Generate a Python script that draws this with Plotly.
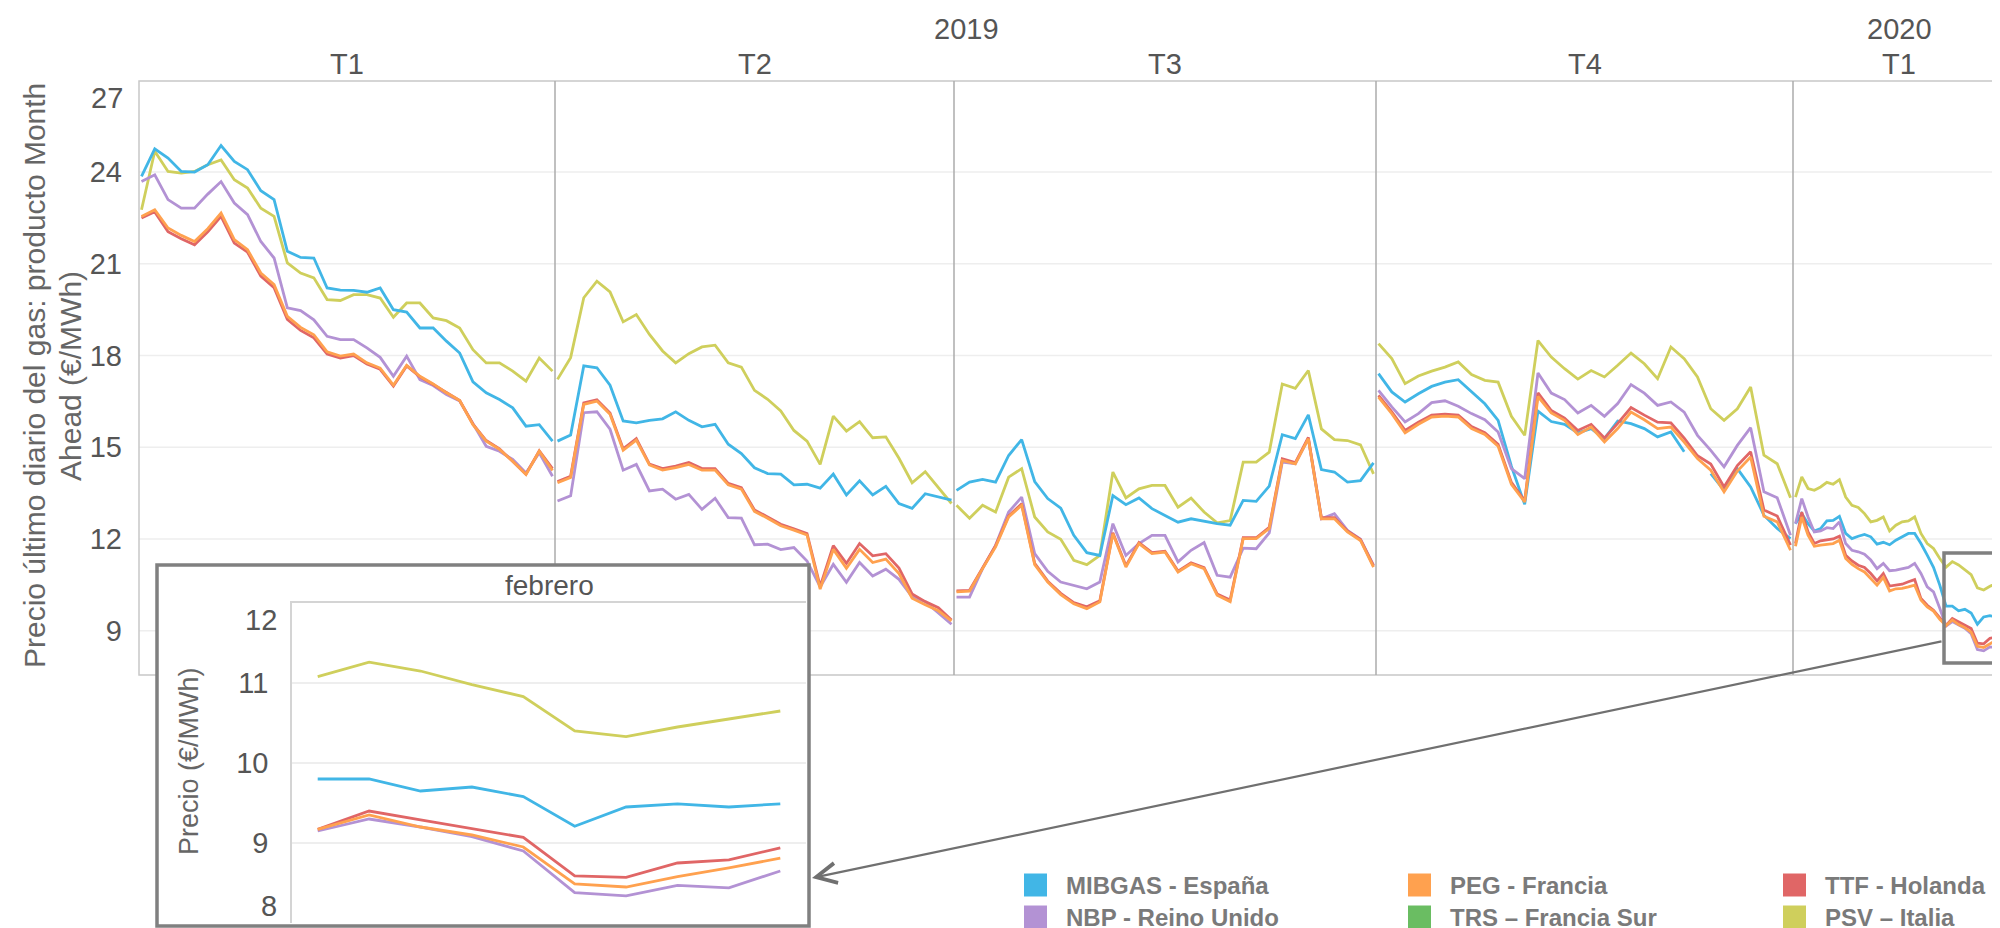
import plotly.graph_objects as go

W, H = 2000, 928
FONT = "Liberation Sans, Arial, Helvetica, sans-serif"

# ---------------- categories / labels ----------------
quarters = ["T1", "T2", "T3", "T4", "T1"]
years = ["2019", "2020"]
year_panes = [[0, 1, 2, 3], [4]]
feb_dates = ["03/02", "04/02", "05/02", "06/02", "07/02",
             "10/02", "11/02", "12/02", "13/02", "14/02"]

names = ["MIBGAS - España", "NBP - Reino Unido", "PEG - Francia",
         "TRS – Francia Sur", "TTF - Holanda", "PSV – Italia"]
colors = ["#41b6e6", "#b392d4", "#ffa14f", "#6abd62", "#e06666", "#cfcf5c"]

y_ticks = [9, 12, 15, 18, 21, 24]
inset_ticks = [9, 10, 11]

# ---------------- data (2019 quarters sampled ~every 2 trading days) ----------------
mibgas_2019 = [
    [23.86, 24.76, 24.46, 24.02, 24.00, 24.24, 24.87, 24.35, 24.08, 23.39, 23.10, 21.41, 21.21, 21.19, 20.21, 20.14,
     20.13, 20.07, 20.21, 19.50, 19.42, 18.90, 18.90, 18.47, 18.08, 17.14, 16.78, 16.56, 16.29, 15.69, 15.74, 15.20],
    [15.20, 15.40, 17.66, 17.60, 17.03, 15.86, 15.80, 15.88, 15.93, 16.16, 15.88, 15.67, 15.75, 15.10, 14.79, 14.33,
     14.14, 14.12, 13.77, 13.79, 13.66, 14.12, 13.44, 13.90, 13.44, 13.72, 13.16, 13.00, 13.48, 13.37, 13.27],
    [13.59, 13.86, 13.95, 13.86, 14.73, 15.25, 13.88, 13.32, 13.01, 12.12, 11.55, 11.46, 13.42, 13.12, 13.34, 12.99,
     12.77, 12.55, 12.66, 12.58, 12.50, 12.45, 13.26, 13.23, 13.73, 15.41, 15.28, 16.06, 14.27, 14.19, 13.86, 13.91, 14.49],
    [17.41, 16.81, 16.48, 16.75, 16.99, 17.13, 17.21, 16.81, 16.42, 15.88, 14.38, 13.13, 16.18, 15.84, 15.75, 15.47,
     15.61, 15.28, 15.86, 15.77, 15.61, 15.34, 15.50, 14.85, None, 14.14, 13.59, 14.30, 13.70, 12.78, 12.34, 12.01],
]
psv_2019 = [
    [22.77, 24.68, 24.02, 23.97, 24.02, 24.24, 24.40, 23.75, 23.48, 22.82, 22.55, 21.03, 20.70, 20.54, 19.83, 19.80,
     19.99, 19.99, 19.88, 19.25, 19.72, 19.72, 19.23, 19.14, 18.90, 18.19, 17.76, 17.76, 17.49, 17.16, 17.92, 17.49],
    [17.22, 17.93, 19.89, 20.43, 20.08, 19.10, 19.34, 18.69, 18.15, 17.76, 18.06, 18.28, 18.34, 17.76, 17.62, 16.86,
     16.57, 16.19, 15.55, 15.20, 14.44, 16.02, 15.53, 15.84, 15.31, 15.34, 14.64, 13.84, 14.20, 13.68, 13.16],
    [13.10, 12.68, 13.10, 12.88, 14.02, 14.30, 12.72, 12.23, 11.99, 11.30, 11.16, 11.46, 14.19, 13.34, 13.64, 13.75,
     13.75, 13.04, 13.34, 12.88, 12.53, 12.60, 14.51, 14.51, 14.84, 17.07, 16.93, 17.51, 15.60, 15.25, 15.22, 15.08, 14.13],
    [18.39, 17.90, 17.08, 17.33, 17.49, 17.62, 17.79, 17.38, 17.19, 17.13, 16.01, 15.39, 18.49, 17.95, 17.57, 17.23,
     17.51, 17.30, 17.68, 18.08, 17.73, 17.24, 18.28, 17.90, 17.30, 16.26, 15.88, 16.26, 16.97, 14.74, 14.46, 13.35],
]
nbp_2019 = [
    [23.69, 23.91, 23.10, 22.82, 22.82, 23.28, 23.69, 22.99, 22.61, 21.73, 21.19, 19.56, 19.47, 19.17, 18.63, 18.52,
     18.52, 18.25, 17.94, 17.32, 17.98, 17.21, 17.02, 16.72, 16.51, 15.76, 15.03, 14.87, 14.60, 14.16, 14.82, 14.05],
    [13.24, 13.41, 16.13, 16.16, 15.59, 14.25, 14.44, 13.57, 13.63, 13.30, 13.46, 12.97, 13.33, 12.70, 12.68, 11.81,
     11.83, 11.65, 11.72, 11.28, 10.43, 11.17, 10.58, 11.23, 10.79, 11.01, 10.68, 10.11, 9.95, 9.59, 9.21],
    [10.10, 10.10, 11.03, 11.79, 12.88, 13.37, 11.52, 10.94, 10.59, 10.48, 10.37, 10.59, 12.50, 11.46, 11.85, 12.12,
     12.12, 11.25, 11.63, 11.88, 10.81, 10.75, 11.70, 11.68, 12.20, 14.51, 14.46, 15.28, 12.66, 12.83, 12.28, 11.99, 11.14],
    [16.86, 16.32, 15.83, 16.10, 16.46, 16.52, 16.34, 16.10, 15.90, 15.50, 14.30, 13.97, 17.43, 16.77, 16.56, 16.12,
     16.37, 16.01, 16.43, 17.05, 16.77, 16.37, 16.48, 16.15, 15.39, 14.90, 14.36, 15.06, 15.64, 13.54, 13.35, 12.12],
]
peg_2019 = [
    [22.55, 22.77, 22.17, 21.93, 21.73, 22.15, 22.66, 21.79, 21.46, 20.70, 20.32, 19.28, 18.92, 18.68, 18.12, 17.98,
     18.05, 17.76, 17.59, 17.03, 17.68, 17.32, 17.07, 16.78, 16.53, 15.74, 15.20, 14.93, 14.54, 14.11, 14.87, 14.24],
    [13.84, 14.01, 16.40, 16.51, 16.08, 14.90, 15.23, 14.42, 14.25, 14.33, 14.44, 14.25, 14.25, 13.77, 13.63, 12.90,
     12.68, 12.43, 12.29, 12.13, 10.36, 11.66, 11.04, 11.66, 11.23, 11.34, 10.87, 10.06, 9.85, 9.65, 9.32],
    [10.27, 10.29, 11.03, 11.74, 12.72, 13.10, 11.16, 10.59, 10.18, 9.88, 9.72, 9.94, 12.17, 11.08, 11.85, 11.52,
     11.57, 10.92, 11.19, 11.03, 10.16, 9.95, 12.01, 12.01, 12.34, 14.57, 14.46, 15.28, 12.66, 12.66, 12.23, 11.95, 11.08],
    [16.64, 16.10, 15.47, 15.75, 15.99, 16.02, 15.99, 15.61, 15.42, 15.03, 13.79, 13.21, 16.66, 16.12, 15.88, 15.42,
     15.66, 15.17, 15.61, 16.15, 15.90, 15.61, 15.66, 15.17, 14.63, 14.25, 13.54, 14.22, 14.68, 12.74, 12.56, 11.63],
]
ttf_2019 = [
    [22.50, 22.70, 22.05, 21.82, 21.62, 22.05, 22.55, 21.68, 21.38, 20.60, 20.22, 19.18, 18.82, 18.58, 18.05, 17.92,
     18.00, 17.72, 17.55, 17.00, 17.66, 17.30, 17.05, 16.78, 16.53, 15.76, 15.22, 14.95, 14.55, 14.12, 14.88, 14.30],
    [13.88, 14.05, 16.45, 16.55, 16.12, 14.95, 15.28, 14.45, 14.30, 14.38, 14.50, 14.30, 14.30, 13.82, 13.68, 12.95,
     12.72, 12.48, 12.33, 12.18, 10.45, 11.78, 11.20, 11.85, 11.45, 11.52, 11.05, 10.20, 9.95, 9.75, 9.35],
    [10.30, 10.32, 11.05, 11.78, 12.75, 13.15, 11.20, 10.62, 10.22, 9.92, 9.78, 9.98, 12.20, 11.12, 11.88, 11.55,
     11.60, 10.95, 11.22, 11.06, 10.20, 10.00, 12.04, 12.04, 12.38, 14.62, 14.50, 15.32, 12.70, 12.70, 12.26, 11.98, 11.12],
    [16.70, 16.16, 15.55, 15.82, 16.05, 16.08, 16.05, 15.68, 15.48, 15.10, 13.85, 13.25, 16.78, 16.20, 15.95, 15.55,
     15.75, 15.30, 15.78, 16.30, 16.05, 15.82, 15.80, 15.30, 14.72, 14.45, 13.70, 14.40, 14.85, 12.95, 12.75, 11.80],
]
trs_2019 = [[], [], [], []]

# 2020: January (daily) and February (daily, shown in the inset)
mibgas_jan20 = [12.50, 12.83, 12.50, 12.26, 12.34, 12.59, 12.61, 12.74, 12.18, 12.01, 12.09, 12.15,
                12.07, 11.83, 11.89, 11.81, 11.96, 12.07, 12.18, 12.18, 11.85, 11.47, 11.07, 10.49]
psv_jan20 = [13.37, 14.03, 13.65, 13.59, 13.70, 13.85, 13.79, 13.94, 13.37, 13.10, 13.03, 12.83,
             12.56, 12.61, 12.72, 12.26, 12.45, 12.56, 12.59, 12.72, 12.18, 11.85, 11.69, 11.36]
nbp_jan20 = [12.50, 13.32, 12.72, 12.23, 12.26, 12.37, 12.34, 12.56, 11.85, 11.63, 11.58, 11.50,
             11.31, 11.03, 11.20, 10.96, 10.98, 11.03, 11.07, 11.20, 10.87, 10.43, 10.27, 9.73]
peg_jan20 = [11.76, 12.72, 12.12, 11.76, 11.80, 11.83, 11.85, 11.96, 11.36, 11.17, 11.03, 10.92,
             10.71, 10.49, 10.74, 10.30, 10.37, 10.38, 10.43, 10.49, 10.00, 9.78, 9.64, 9.37]
ttf_jan20 = [11.85, 12.88, 12.23, 11.85, 11.94, 11.98, 12.00, 12.09, 11.47, 11.28, 11.14, 11.07,
             10.87, 10.63, 10.87, 10.46, 10.49, 10.52, 10.60, 10.67, 10.05, 9.83, 9.67, 9.43]
trs_jan20 = []

mibgas_feb20 = [9.80, 9.80, 9.65, 9.70, 9.58, 9.21, 9.45, 9.49, 9.45, 9.49]
psv_feb20 = [11.08, 11.26, 11.15, 10.98, 10.83, 10.40, 10.33, 10.45, 10.55, 10.65]
nbp_feb20 = [9.15, 9.30, 9.20, 9.08, 8.90, 8.38, 8.34, 8.47, 8.44, 8.65]
peg_feb20 = [9.17, 9.35, 9.20, 9.10, 8.95, 8.49, 8.45, 8.58, 8.69, 8.81]
ttf_feb20 = [9.17, 9.40, 9.29, 9.18, 9.07, 8.59, 8.57, 8.75, 8.79, 8.94]
trs_feb20 = []

# ---------------- assemble ----------------
series = {
    "MIBGAS - España": (mibgas_2019, mibgas_jan20, mibgas_feb20),
    "NBP - Reino Unido": (nbp_2019, nbp_jan20, nbp_feb20),
    "PEG - Francia": (peg_2019, peg_jan20, peg_feb20),
    "TRS – Francia Sur": (trs_2019, trs_jan20, trs_feb20),
    "TTF - Holanda": (ttf_2019, ttf_jan20, ttf_feb20),
    "PSV – Italia": (psv_2019, psv_jan20, psv_feb20),
}
color_of = dict(zip(names, colors))
draw_order = ["PSV – Italia", "MIBGAS - España", "NBP - Reino Unido", "TRS – Francia Sur",
              "TTF - Holanda", "PEG - Francia"]

edges = [131, 547, 946, 1368, 1785, 1997]   # pane borders (px)
TOP, BOT = 73, 667
IN_L, IN_R, IN_T, IN_B = 284, 798, 595, 915  # inset plot area
BOX = (149, 557, 801, 918)                   # inset frame

TXT = "#555555"
TICK_SIZE = 29


def px_x(v):
    return v / W


def px_y(v):
    return 1 - v / H


fig = go.Figure()
LW = 2.8


def pane_key(p):
    return "x" if p == 0 else f"x{p + 1}"


for nm in draw_order:
    q2019, jan, feb = series[nm]
    panes = list(q2019) + [jan + feb]
    for p, vals in enumerate(panes):
        if not vals:
            continue
        fig.add_trace(go.Scatter(
            x=list(range(len(vals))), y=vals, mode="lines",
            line=dict(color=color_of[nm], width=LW),
            xaxis=pane_key(p), yaxis="y", showlegend=False,
            connectgaps=False, hoverinfo="skip"))

for nm in draw_order:
    feb = series[nm][2]
    if not feb:
        continue
    fig.add_trace(go.Scatter(
        x=feb_dates, y=feb, mode="lines",
        line=dict(color=color_of[nm], width=LW),
        xaxis="x6", yaxis="y2", showlegend=False, hoverinfo="skip"))

layout = dict(
    width=W, height=H, margin=dict(l=0, r=0, t=0, b=0),
    paper_bgcolor="white", plot_bgcolor="rgba(0,0,0,0)",
    showlegend=False, font=dict(family=FONT, color=TXT),
)

pane_lengths = [len(q) for q in mibgas_2019] + [len(mibgas_jan20) + len(mibgas_feb20)]
for p in range(5):
    n = pane_lengths[p]
    wpx = edges[p + 1] - edges[p]
    step = (wpx - 5) / (n - 1)
    pad = 2.5 / step
    key = "xaxis" if p == 0 else f"xaxis{p + 1}"
    layout[key] = dict(domain=[px_x(edges[p]), px_x(edges[p + 1])],
                       range=[-pad, n - 1 + pad], visible=False, anchor="y",
                       fixedrange=True)

layout["yaxis"] = dict(
    domain=[px_y(BOT), px_y(TOP)], range=[7.55, 26.98], anchor="x",
    tickvals=y_ticks, ticktext=[str(t) for t in y_ticks],
    showgrid=False, zeroline=False, showline=False, ticks="",
    tickfont=dict(size=TICK_SIZE, color=TXT), ticklabelstandoff=16)

layout["xaxis6"] = dict(
    domain=[px_x(IN_L), px_x(IN_R)], anchor="y2", type="category",
    categoryorder="array", categoryarray=feb_dates, range=[-0.5, 9.5],
    side="top", showline=True, linecolor="#d4d4d4", linewidth=1.5,
    showticklabels=False, ticks="", showgrid=False, zeroline=False)
layout["yaxis2"] = dict(
    domain=[px_y(IN_B), px_y(IN_T)], anchor="x6", range=[8, 12],
    tickvals=inset_ticks, showgrid=True, gridcolor="#eeeeee", gridwidth=1.5,
    showline=True, linecolor="#d4d4d4", linewidth=1.5, zeroline=False,
    ticks="", tickfont=dict(size=TICK_SIZE, color=TXT), ticklabelstandoff=16)

shapes = []
# main gridlines
for t in y_ticks:
    shapes.append(dict(type="line", xref="paper", yref="y", x0=px_x(edges[0]), x1=px_x(edges[-1]),
                       y0=t, y1=t, line=dict(color="#eeeeee", width=1.5), layer="below"))
# main frame
shapes.append(dict(type="rect", xref="paper", yref="paper", x0=px_x(edges[0]), x1=px_x(edges[-1]),
                   y0=px_y(BOT), y1=px_y(TOP), line=dict(color="#c8c8c8", width=1.5), layer="below"))
# pane dividers
for e in edges[1:-1]:
    shapes.append(dict(type="line", xref="paper", yref="paper", x0=px_x(e), x1=px_x(e),
                       y0=px_y(BOT), y1=px_y(TOP), line=dict(color="#ababab", width=1.5), layer="below"))
# inset white background
shapes.append(dict(type="rect", xref="paper", yref="paper", x0=px_x(BOX[0]), x1=px_x(BOX[2]),
                   y0=px_y(BOX[3]), y1=px_y(BOX[1]), fillcolor="white", line=dict(width=0), layer="below"))
# inset frame
shapes.append(dict(type="rect", xref="paper", yref="paper", x0=px_x(BOX[0]), x1=px_x(BOX[2]),
                   y0=px_y(BOX[3]), y1=px_y(BOX[1]), line=dict(color="#808080", width=3.5), layer="above"))
# zoom box on main chart (February region)
shapes.append(dict(type="rect", xref="paper", yref="paper", x0=px_x(1936), x1=px_x(1996),
                   y0=px_y(655), y1=px_y(545), line=dict(color="#808080", width=3.5), layer="above"))

annotations = []


def label(text, x, y, size, color=TXT, xanchor="center", angle=0):
    annotations.append(dict(text=text, x=px_x(x), y=px_y(y), xref="paper", yref="paper",
                            xanchor=xanchor, yanchor="middle", showarrow=False, textangle=angle,
                            font=dict(size=size, color=color)))


# header labels
for yi, panes_in_year in enumerate(year_panes):
    cx = (edges[panes_in_year[0]] + edges[panes_in_year[-1] + 1]) / 2
    label(years[yi], cx, 21, 29)
for p, q in enumerate(quarters):
    cx = (edges[p] + edges[p + 1]) / 2
    label(q, cx, 56, 29)
# edge tick labels (drawn inside the range like the original)
label("27", 117, 90, TICK_SIZE, xanchor="right")
label("12", 271, 612, TICK_SIZE, xanchor="right")
label("8", 271, 898, TICK_SIZE, xanchor="right")
# axis titles (two rotated lines)
label("Precio último diario del gas: producto Month", 26, 368, 30, "#666666", angle=-90)
label("Ahead (€/MWh)", 62, 368, 30, "#666666", angle=-90)
label("Precio (€/MWh)", 181, 753, 27, "#666666", angle=-90)
label("febrero", 541, 577, 28)
# connector arrow from zoom box to inset
annotations.append(dict(text="", x=px_x(804), y=px_y(870), xref="paper", yref="paper",
                        ax=1935 - 804, ay=633 - 870, showarrow=True, arrowhead=5,
                        arrowsize=1.8, arrowwidth=2.2, arrowcolor="#707070", standoff=0))

# legend (3 columns x 2 rows)
leg_cols = [1016, 1400, 1775]
leg_rows = [877, 909]
for i, nm in enumerate(names):
    cx = leg_cols[i // 2]
    cy = leg_rows[i % 2]
    shapes.append(dict(type="rect", xref="paper", yref="paper", x0=px_x(cx), x1=px_x(cx + 23),
                       y0=px_y(cy + 11.5), y1=px_y(cy - 11.5), fillcolor=color_of[nm],
                       line=dict(width=0), layer="above"))
    label(f"<b>{nm}</b>", cx + 40, cy, 24, "#7a7a7a", xanchor="left")

layout["shapes"] = shapes
layout["annotations"] = annotations
fig.update_layout(**layout)

fig.write_html("out.html")
